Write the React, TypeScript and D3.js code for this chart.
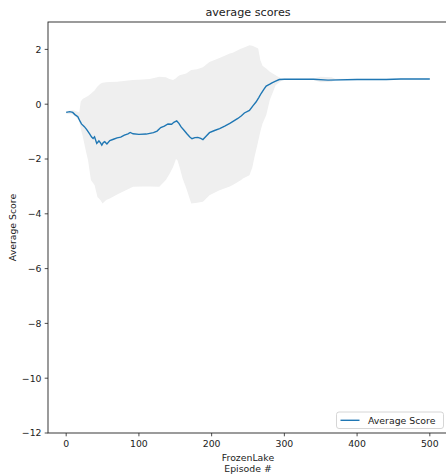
import React from "react";
import { scaleLinear, line, area } from "d3";

// mean score per episode
const meanEpisodes = [0, 5, 9, 12, 16, 19, 21, 25, 28, 32, 35, 37, 39, 42, 45, 47, 49, 51, 53, 56, 60, 65, 70, 75, 80, 85, 88, 92, 100, 110, 120, 125, 130, 135, 140, 145, 148, 152, 155, 158, 162, 166, 170, 173, 177, 181, 185, 188, 192, 197, 204, 211, 218, 225, 230, 236, 241, 245, 252, 257, 261, 265, 268, 272, 275, 280, 283, 288, 293, 300, 340, 360, 400, 440, 460, 500];
const meanScores = [-0.3, -0.27, -0.3, -0.38, -0.46, -0.62, -0.72, -0.82, -0.92, -1.07, -1.2, -1.25, -1.19, -1.43, -1.34, -1.4, -1.49, -1.4, -1.37, -1.45, -1.33, -1.28, -1.23, -1.2, -1.13, -1.08, -1.03, -1.08, -1.1, -1.09, -1.04, -0.98, -0.85, -0.8, -0.72, -0.73, -0.66, -0.61, -0.7, -0.83, -0.95, -1.08, -1.2, -1.26, -1.22, -1.21, -1.25, -1.29, -1.18, -1.04, -0.96, -0.89, -0.8, -0.7, -0.62, -0.52, -0.42, -0.32, -0.23, -0.05, 0.08, 0.25, 0.39, 0.55, 0.66, 0.73, 0.78, 0.84, 0.9, 0.91, 0.91, 0.88, 0.9, 0.9, 0.92, 0.92];

// spread band (mean +/- std)
const bandEpisodes = [0, 10, 18, 20, 23, 27, 30, 34, 39, 43, 47, 50, 55, 60, 70, 82, 92, 105, 115, 128, 137, 142, 147, 151, 153, 156, 160, 165, 172, 180, 188, 197, 210, 225, 229, 240, 243, 252, 256, 259, 264, 267, 270, 275, 280, 288, 296, 300, 340, 350, 365, 370, 500];
const bandUpper = [-0.25, -0.22, -0.3, 0.1, 0.2, 0.25, 0.3, 0.38, 0.5, 0.65, 0.75, 0.78, 0.8, 0.81, 0.82, 0.86, 0.88, 0.9, 0.92, 1.0, 0.98, 0.92, 0.88, 0.95, 1.0, 1.06, 1.08, 1.12, 1.25, 1.28, 1.35, 1.54, 1.68, 1.85, 1.88, 2.02, 2.05, 2.15, 2.13, 2.1, 2.03, 1.6, 1.4, 1.3, 1.18, 1.06, 0.93, 0.93, 0.94, 1.0, 0.98, 0.93, 0.93];
const bandLower = [-0.35, -0.38, -0.6, -0.9, -1.2, -1.7, -2.04, -2.77, -2.95, -3.39, -3.5, -3.62, -3.5, -3.44, -3.3, -3.14, -3.01, -3.0, -3.0, -3.01, -2.77, -2.55, -2.29, -2.0, -2.05, -2.3, -2.7, -3.06, -3.62, -3.6, -3.56, -3.32, -3.15, -3.0, -2.95, -2.78, -2.71, -2.59, -2.3, -1.92, -1.35, -1.0, -0.7, -0.4, 0.15, 0.69, 0.86, 0.89, 0.88, 0.8, 0.82, 0.88, 0.91];

const xTicks = [0, 100, 200, 300, 400, 500];
const yTicks = [2, 0, -2, -4, -6, -8, -10, -12];

const W = 446;
const H = 475;
const left = 48;
const right = 448;
const top = 22;
const bottom = 433;
const fs = 9.33;
const font = "DejaVu Sans, sans-serif";

const fmt = (v: number) => (v < 0 ? "\u2212" + Math.abs(v) : String(v));

export default function App() {
  const x = scaleLinear().domain([-25, 525]).range([left, right]);
  const y = scaleLinear().domain([-12, 3]).range([bottom, top]);

  const meanPath = line<number>()
    .x((d, i) => x(meanEpisodes[i]))
    .y((d) => y(d))(meanScores);

  const bandPath = area<number>()
    .x((d) => x(d))
    .y0((d, i) => y(bandLower[i]))
    .y1((d, i) => y(bandUpper[i]))(bandEpisodes);

  return (
    <svg
      width={W}
      height={H}
      style={{ position: "absolute", left: 0, top: 0, background: "#fff" }}
      fontFamily={font}
    >
      <rect width={W} height={H} fill="#fff" />
      <path d={bandPath || ""} fill="#efefef" />
      <path d={meanPath || ""} fill="none" stroke="#1f77b4" strokeWidth={1.4} />

      {/* spines */}
      <rect
        x={left}
        y={top}
        width={right - left}
        height={bottom - top}
        fill="none"
        stroke="#222"
        strokeWidth={0.9}
      />

      {xTicks.map((t) => (
        <g key={"x" + t}>
          <line x1={x(t)} x2={x(t)} y1={bottom} y2={bottom + 3.3} stroke="#222" strokeWidth={0.8} />
          <text x={x(t)} y={bottom + 13.6} fontSize={fs} textAnchor="middle" fill="#222">
            {fmt(t)}
          </text>
        </g>
      ))}
      {yTicks.map((t) => (
        <g key={"y" + t}>
          <line x1={left - 3.3} x2={left} y1={y(t)} y2={y(t)} stroke="#222" strokeWidth={0.8} />
          <text x={left - 6.5} y={y(t) + 3.4} fontSize={fs} textAnchor="end" fill="#222">
            {fmt(t)}
          </text>
        </g>
      ))}

      <text x={(left + right) / 2} y={16.4} fontSize={11.2} textAnchor="middle" fill="#222">
        average scores
      </text>
      <text x={(left + right) / 2} y={461} fontSize={fs} textAnchor="middle" fill="#222">
        FrozenLake
      </text>
      <text x={(left + right) / 2} y={472} fontSize={fs} textAnchor="middle" fill="#222">
        Episode #
      </text>
      <text
        transform={`translate(15.5,${(top + bottom) / 2}) rotate(-90)`}
        fontSize={fs}
        textAnchor="middle"
        fill="#222"
      >
        Average Score
      </text>

      {/* legend */}
      <g>
        <rect
          x={336.5}
          y={412}
          width={107}
          height={16.5}
          rx={2.5}
          fill="#fff"
          fillOpacity={0.8}
          stroke="#ccc"
          strokeWidth={0.8}
        />
        <line x1={340.5} x2={359.5} y1={420.3} y2={420.3} stroke="#1f77b4" strokeWidth={1.4} />
        <text x={368} y={423.6} fontSize={fs} fill="#222">
          Average Score
        </text>
      </g>
    </svg>
  );
}
